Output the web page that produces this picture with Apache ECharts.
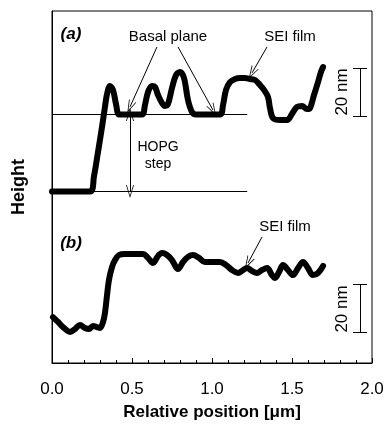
<!DOCTYPE html>
<html><head><meta charset="utf-8">
<script src="https://cdn.jsdelivr.net/npm/echarts@6/dist/echarts.min.js"></script>
<style>html,body{margin:0;padding:0;background:#fff}#c{width:387px;height:429px}</style>
</head><body><div id="c"></div>
<script>
// Profile (a): relative position [um], height [nm, arbitrary offset]
const xA = [0, 0.05, 0.2375, 0.2625, 0.2875, 0.3125, 0.331, 0.344, 0.3625, 0.381, 0.4, 0.419, 0.456, 0.5625,
  0.581, 0.6, 0.625, 0.644, 0.6625, 0.6875, 0.706, 0.725, 0.75, 0.775, 0.8, 0.825, 0.85, 0.875, 0.9, 1.05,
  1.069, 1.0875, 1.1125, 1.144, 1.175, 1.206, 1.2375, 1.269, 1.3, 1.325, 1.35, 1.3625, 1.381, 1.425, 1.469,
  1.5, 1.531, 1.5625, 1.594, 1.6125, 1.6375, 1.6625, 1.681, 1.694];
const yA = [70.6, 70.6, 70.6, 77.0, 86.9, 97.2, 105.5, 110.8, 114.1, 112.5, 106.7, 102.4, 102.4, 102.4,
  106.3, 111.6, 114.1, 113.7, 110.4, 107.1, 105.9, 106.7, 113.3, 118.6, 119.9, 117.4, 108.3, 103.4, 102.4, 102.4,
  106.3, 112.5, 115.7, 117.0, 117.4, 117.4, 117.0, 116.6, 114.5, 112.5, 109.6, 105.0, 100.9, 100.1, 100.1,
  102.6, 105.5, 105.9, 104.6, 105.0, 110.4, 115.7, 119.9, 121.9];
// Profile (b)
const xB = [0.006, 0.0375, 0.069, 0.1125, 0.144, 0.175, 0.206, 0.231, 0.256, 0.281, 0.3, 0.319, 0.331, 0.344,
  0.356, 0.375, 0.394, 0.419, 0.456, 0.569, 0.6, 0.631, 0.6625, 0.6875, 0.719, 0.75, 0.7875, 0.819, 0.85, 0.881,
  0.919, 0.956, 1.0, 1.05, 1.0875, 1.125, 1.1625, 1.194, 1.219, 1.25, 1.281, 1.3125, 1.344, 1.375, 1.394, 1.419,
  1.444, 1.475, 1.506, 1.5375, 1.569, 1.6, 1.631, 1.6625, 1.694];
const yB = [18.9, 16.9, 14.8, 12.8, 14.0, 15.7, 14.4, 14.0, 15.2, 14.8, 14.4, 16.9, 20.6, 28.0,
  34.2, 39.5, 42.4, 44.5, 44.9, 44.9, 43.3, 41.2, 44.1, 45.3, 44.5, 42.4, 38.7, 41.6, 43.7, 44.5,
  43.3, 41.6, 41.6, 41.6, 40.4, 38.3, 37.1, 38.3, 39.1, 37.9, 37.1, 38.3, 39.1, 36.2, 35.0, 37.5,
  40.4, 38.3, 36.2, 39.1, 41.6, 39.1, 36.2, 37.1, 40.0];
const xTickLabels = ['0.0', '0.5', '1.0', '1.5', '2.0'];
// Reference levels (a): basal plane and bottom of HOPG step
const basalLevel = 102.4;
const stepLevel = 70.6;
const refLineEnd = 1.22;
// Scale bars (20 nm)
const scaleBarA = [101.5, 121.5];
const scaleBarB = [12.5, 32.5];
const scaleBarX = 1.925;
const scaleCapHalf = 0.044;

const FONT = '"Liberation Sans", Arial, Helvetica, sans-serif';
const chev = 'path://M0,0 L-5,12 L-4,12 L0,2.5 L4,12 L5,12 Z';

function seg(a, b, s1, s2) {
  return [{coord: a, symbol: s1 || 'none'}, {coord: b, symbol: s2 || 'none'}];
}

const chart = echarts.init(document.getElementById('c'), null, {renderer: 'canvas'});
const mlData = [
  seg([0, basalLevel], [refLineEnd, basalLevel]),
  seg([0, stepLevel], [refLineEnd, stepLevel]),
  seg([0.4875, basalLevel], [0.4875, stepLevel], chev, chev),
  seg([0.656, 130.2], [0.4875, 105.5], 'none', chev),
  seg([0.7875, 130.2], [1.006, 104.2], 'none', chev),
  seg([1.344, 130.2], [1.25, 119.5], 'none', chev),
  seg([1.3125, 51.9], [1.225, 41.2], 'none', chev),
  seg([scaleBarX, scaleBarA[0]], [scaleBarX, scaleBarA[1]]),
  seg([scaleBarX - scaleCapHalf, scaleBarA[0]], [scaleBarX + scaleCapHalf, scaleBarA[0]]),
  seg([scaleBarX - scaleCapHalf, scaleBarA[1]], [scaleBarX + scaleCapHalf, scaleBarA[1]]),
  seg([scaleBarX, scaleBarB[0]], [scaleBarX, scaleBarB[1]]),
  seg([scaleBarX - scaleCapHalf, scaleBarB[0]], [scaleBarX + scaleCapHalf, scaleBarB[0]]),
  seg([scaleBarX - scaleCapHalf, scaleBarB[1]], [scaleBarX + scaleCapHalf, scaleBarB[1]])
];

chart.setOption({
  animation: false,
  backgroundColor: '#fff',
  grid: {left: 52, right: 15, top: 11, bottom: 66, show: true, borderColor: '#000', borderWidth: 1, containLabel: false},
  xAxis: {
    type: 'value', min: 0, max: 2, interval: 0.5,
    axisLine: {show: true, lineStyle: {color: '#000', width: 1}},
    axisTick: {show: true, inside: true, length: 5, lineStyle: {color: '#000'}},
    minorTick: {show: true, splitNumber: 5, length: 3, lineStyle: {color: '#000'}},
    splitLine: {show: false}, minorSplitLine: {show: false},
    axisLabel: {fontSize: 17, color: '#000', fontFamily: FONT, margin: 18,
      formatter: v => xTickLabels[Math.round(v / 0.5)]},
    name: 'Relative position [\u03bcm]', nameLocation: 'middle', nameGap: 41,
    nameTextStyle: {fontSize: 17, fontWeight: 'bold', color: '#000', fontFamily: FONT}
  },
  yAxis: {
    type: 'value', min: 0, max: 145,
    axisLine: {show: true, lineStyle: {color: '#000', width: 1}},
    axisTick: {show: false}, axisLabel: {show: false}, splitLine: {show: false},
    name: 'Height', nameLocation: 'middle', nameGap: 24,
    nameTextStyle: {fontSize: 18, fontWeight: 'bold', color: '#000', fontFamily: FONT}
  },
  series: [
    {type: 'line', data: xA.map((x, i) => [x, yA[i]]), showSymbol: false, smooth: 0.35, silent: true,
      lineStyle: {color: '#000', width: 6, cap: 'round', join: 'round'}},
    {type: 'line', data: xB.map((x, i) => [x, yB[i]]), showSymbol: false, smooth: 0.35, silent: true,
      lineStyle: {color: '#000', width: 6, cap: 'round', join: 'round'}},
    {type: 'line', data: [], silent: true,
      markLine: {silent: true, animation: false, symbol: ['none', 'none'], symbolSize: [8, 13],
        label: {show: false}, emphasis: {disabled: true},
        lineStyle: {color: '#000', width: 1, type: 'solid'}, data: mlData}}
  ],
  graphic: [
    {type: 'text', x: 71, y: 34, style: {text: '(a)', font: 'italic bold 17px ' + FONT, fill: '#000', align: 'center', verticalAlign: 'middle'}},
    {type: 'text', x: 71, y: 243, style: {text: '(b)', font: 'italic bold 17px ' + FONT, fill: '#000', align: 'center', verticalAlign: 'middle'}},
    {type: 'text', x: 168, y: 37, style: {text: 'Basal plane', font: '15px ' + FONT, fill: '#000', align: 'center', verticalAlign: 'middle'}},
    {type: 'text', x: 290, y: 37, style: {text: 'SEI film', font: '15px ' + FONT, fill: '#000', align: 'center', verticalAlign: 'middle'}},
    {type: 'text', x: 285, y: 227, style: {text: 'SEI film', font: '15px ' + FONT, fill: '#000', align: 'center', verticalAlign: 'middle'}},
    {type: 'text', x: 158, y: 147, style: {text: 'HOPG', font: '14px ' + FONT, fill: '#000', align: 'center', verticalAlign: 'middle'}},
    {type: 'text', x: 158, y: 164, style: {text: 'step', font: '14px ' + FONT, fill: '#000', align: 'center', verticalAlign: 'middle'}},
    {type: 'text', x: 342, y: 92, rotation: Math.PI / 2, style: {text: '20 nm', font: '17px ' + FONT, fill: '#000', align: 'center', verticalAlign: 'middle'}},
    {type: 'text', x: 342, y: 309, rotation: Math.PI / 2, style: {text: '20 nm', font: '17px ' + FONT, fill: '#000', align: 'center', verticalAlign: 'middle'}}
  ]
});
</script></body></html>
